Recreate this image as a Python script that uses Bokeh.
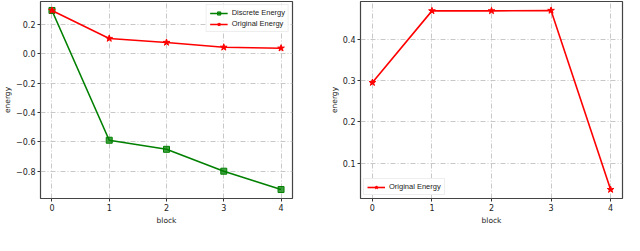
from bokeh.plotting import figure
from bokeh.layouts import row
from bokeh.models import Range1d, FixedTicker, Legend, LegendItem
from bokeh.embed import file_html
from bokeh.resources import INLINE

# ---- data ----
blocks = [0, 1, 2, 3, 4]
discrete_energy = [0.295, -0.589, -0.651, -0.800, -0.925]
original_energy_left = [0.295, 0.104, 0.077, 0.044, 0.038]
original_energy_right = [0.295, 0.468, 0.468, 0.469, 0.037]
x_ticks = [0, 1, 2, 3, 4]
left_yticks = [-0.8, -0.6, -0.4, -0.2, 0.0, 0.2]
right_yticks = [0.1, 0.2, 0.3, 0.4]

GREEN = "#008000"
RED = "#ff0000"
TICK_FONT = "8px"
FONT = "DejaVu Sans"


def padded(vals, frac=0.05):
    lo, hi = min(vals), max(vals)
    m = (hi - lo) * frac
    return lo - m, hi + m


def fmt(v):
    s = "%.1f" % v
    return s.replace("-", "\u2212")


def style(p, yticks):
    p.outline_line_color = "#444444"
    p.outline_line_width = 1.2
    for ax in (p.xaxis[0], p.yaxis[0]):
        ax.axis_line_color = None
        ax.major_tick_out = 3
        ax.major_tick_in = 0
        ax.minor_tick_line_color = None
        ax.major_tick_line_color = "#333333"
        ax.major_label_text_font_size = TICK_FONT
        ax.major_label_text_font = FONT
        ax.major_label_text_color = "#222222"
        ax.axis_label_text_font_size = "7.5px"
        ax.axis_label_text_font = FONT
        ax.axis_label_text_font_style = "normal"
        ax.axis_label_text_color = "#222222"
    p.xaxis.ticker = FixedTicker(ticks=x_ticks)
    p.yaxis.ticker = FixedTicker(ticks=yticks)
    p.yaxis.major_label_overrides = {t: fmt(t) for t in yticks}
    p.xaxis.axis_label = "block"
    p.yaxis.axis_label = "energy"
    p.xaxis.major_label_standoff = 2
    p.xaxis.axis_label_standoff = 2
    p.yaxis.major_label_standoff = 2
    p.yaxis.axis_label_standoff = 1
    for g in (p.xgrid[0], p.ygrid[0]):
        g.grid_line_color = "#c8c8c8"
        g.grid_line_dash = "5 2 1 2"
        g.grid_line_width = 1


def legend_style(leg):
    leg.label_text_font_size = "7.5px"
    leg.label_text_font = "Liberation Sans"
    leg.label_text_color = "#222222"
    leg.glyph_width = 18
    leg.glyph_height = 8
    leg.label_height = 8
    leg.label_standoff = 4
    leg.spacing = 2
    leg.padding = 3
    leg.margin = 3
    leg.border_line_color = "#dddddd"
    leg.border_line_width = 1
    leg.background_fill_alpha = 0.85


xr = padded(blocks)

# ---- left plot ----
y1 = padded(discrete_energy + original_energy_left)
p1 = figure(width=326, height=235, output_backend="svg", toolbar_location=None,
            x_range=Range1d(*xr), y_range=Range1d(*y1),
            min_border_left=30, min_border_right=34, min_border_top=1, min_border_bottom=37)
style(p1, left_yticks)
l1 = p1.line(blocks, discrete_energy, line_color=GREEN, line_width=1.6)
s1 = p1.scatter(blocks, discrete_energy, marker="square", size=6, fill_color=GREEN,
                line_color=GREEN, fill_alpha=0.75)
l2 = p1.line(blocks, original_energy_left, line_color=RED, line_width=1.6)
s2 = p1.scatter(blocks, original_energy_left, marker="star", size=7, fill_color=RED,
                line_color=RED)
leg1 = Legend(items=[LegendItem(label="Discrete Energy", renderers=[l1, s1]),
                     LegendItem(label="Original Energy", renderers=[l2, s2])],
              location="top_right")
legend_style(leg1)
p1.add_layout(leg1, "center")

# ---- right plot ----
y2 = padded(original_energy_right)
p2 = figure(width=298, height=235, output_backend="svg", toolbar_location=None,
            x_range=Range1d(*xr), y_range=Range1d(*y2),
            min_border_left=30, min_border_right=2, min_border_top=0, min_border_bottom=37)
style(p2, right_yticks)
l3 = p2.line(blocks, original_energy_right, line_color=RED, line_width=1.6)
s3 = p2.scatter(blocks, original_energy_right, marker="star", size=7, fill_color=RED,
                line_color=RED)
leg2 = Legend(items=[LegendItem(label="Original Energy", renderers=[l3, s3])],
              location="bottom_left")
legend_style(leg2)
p2.add_layout(leg2, "center")

layout = row(p1, p2)
open("out.html", "w").write(file_html(layout, INLINE))
